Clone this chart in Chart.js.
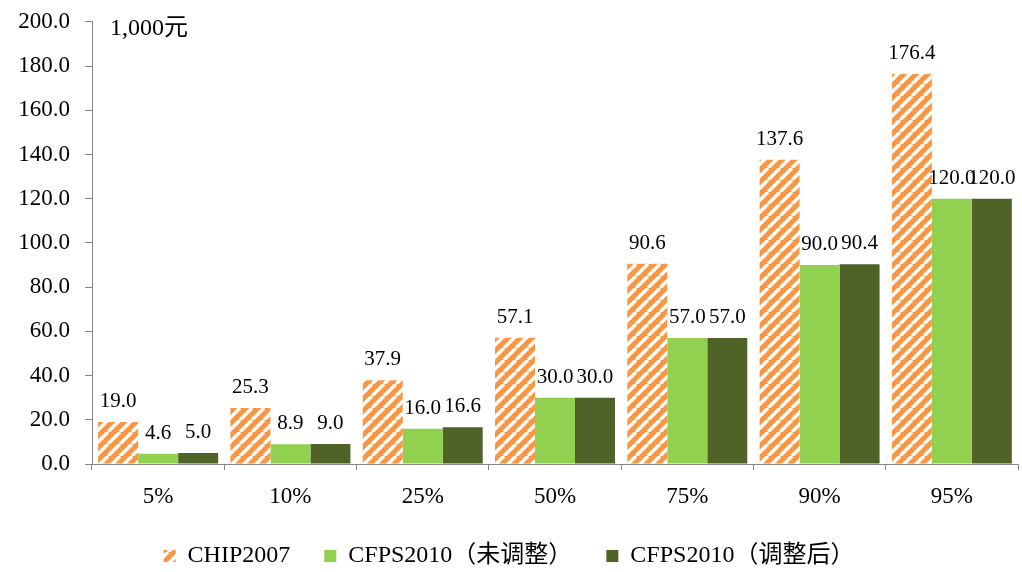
<!DOCTYPE html>
<html>
<head>
<meta charset="utf-8">
<script src="https://cdn.jsdelivr.net/npm/chart.js@4/dist/chart.umd.min.js"></script>
<style>
  html, body { margin: 0; padding: 0; background: #fff; }
  #wrap { width: 1022px; height: 572px; }
</style>
</head>
<body>
<div id="wrap"><canvas id="chart"></canvas></div>
<script>
// 收入分位数
const categories = ["5%", "10%", "25%", "50%", "75%", "90%", "95%"];
const chip2007 = [19.0, 25.3, 37.9, 57.1, 90.6, 137.6, 176.4];
const cfpsRaw = [4.6, 8.9, 16.0, 30.0, 57.0, 90.0, 120.0];
const cfpsAdj = [5.0, 9.0, 16.6, 30.0, 57.0, 90.4, 120.0];
const seriesNames = ["CHIP2007", "CFPS2010（未调整）", "CFPS2010（调整后）"];
const yTicks = [0, 20, 40, 60, 80, 100, 120, 140, 160, 180, 200];
const unitLabel = "1,000元";

const SERIF = '"Times New Roman", "Liberation Serif", "Noto Sans CJK SC", serif';
const AXIS_GRAY = "#868686";

// orange with white diagonal stripes
function stripePattern() {
	const P = 12;
	const c = document.createElement("canvas");
	c.width = P;
	c.height = P;
	const g = c.getContext("2d");
	g.fillStyle = "#F79646";
	g.fillRect(0, 0, P, P);
	g.strokeStyle = "#ffffff";
	g.lineWidth = 3.5;
	[-P, 0, P].forEach((x0) => {
		g.beginPath();
		g.moveTo(x0, P);
		g.lineTo(x0 + P, 0);
		g.stroke();
	});
	return g.createPattern(c, "repeat");
}

const valueLabels = {
	id: "valueLabels",
	afterDatasetsDraw(chart) {
		const ctx = chart.ctx;
		ctx.save();
		ctx.font = "21px " + SERIF;
		ctx.fillStyle = "#000";
		ctx.textAlign = "center";
		ctx.textBaseline = "alphabetic";
		chart.data.datasets.forEach((ds, i) => {
			chart.getDatasetMeta(i).data.forEach((bar, j) => {
				ctx.fillText(ds.data[j].toFixed(1), bar.x, bar.y - 15);
			});
		});
		ctx.restore();
	}
};

const unitText = {
	id: "unitText",
	afterDraw(chart) {
		const ctx = chart.ctx;
		ctx.save();
		ctx.font = "24px " + SERIF;
		ctx.fillStyle = "#000";
		ctx.textAlign = "left";
		ctx.textBaseline = "alphabetic";
		ctx.fillText(unitLabel, chart.chartArea.left + 18, 35);
		ctx.restore();
	}
};

const ctx = document.getElementById("chart").getContext("2d");
new Chart(ctx, {
	type: "bar",
	data: {
		labels: categories,
		datasets: [
			{ label: seriesNames[0], data: chip2007, backgroundColor: stripePattern() },
			{ label: seriesNames[1], data: cfpsRaw, backgroundColor: "#92D050" },
			{ label: seriesNames[2], data: cfpsAdj, backgroundColor: "#4F6228" }
		]
	},
	options: {
		responsive: true,
		maintainAspectRatio: false,
		animation: false,
		layout: { padding: { top: 19, right: 4, left: 0, bottom: -6 } },
		datasets: {
			bar: { categoryPercentage: 0.907, barPercentage: 1.0 }
		},
		plugins: {
			legend: {
				position: "bottom",
				labels: {
					font: { family: SERIF, size: 24 },
					color: "#000",
					boxWidth: 12,
					boxHeight: 12,
					padding: 34
				}
			},
			tooltip: { enabled: false }
		},
		scales: {
			x: {
				grid: {
					display: true,
					drawOnChartArea: false,
					drawTicks: true,
					tickLength: 6,
					color: AXIS_GRAY,
					offset: true
				},
				border: { display: true, color: AXIS_GRAY, width: 1 },
				ticks: {
					font: { family: SERIF, size: 23 },
					color: "#000",
					padding: 13
				},
				afterFit(scale) { scale.height = 46; }
			},
			y: {
				min: 0,
				max: 200,
				afterBuildTicks(scale) {
					scale.ticks = yTicks.map((v) => ({ value: v }));
				},
				grid: {
					display: true,
					drawOnChartArea: false,
					drawTicks: true,
					tickLength: 7,
					color: AXIS_GRAY
				},
				border: { display: true, color: AXIS_GRAY, width: 1 },
				ticks: {
					font: { family: SERIF, size: 23, lineHeight: 0.6 },
					color: "#000",
					padding: 15,
					callback: (v) => Number(v).toFixed(1)
				},
				afterFit(scale) { scale.width = 92; }
			}
		}
	},
	plugins: [valueLabels, unitText]
});
</script>
</body>
</html>
